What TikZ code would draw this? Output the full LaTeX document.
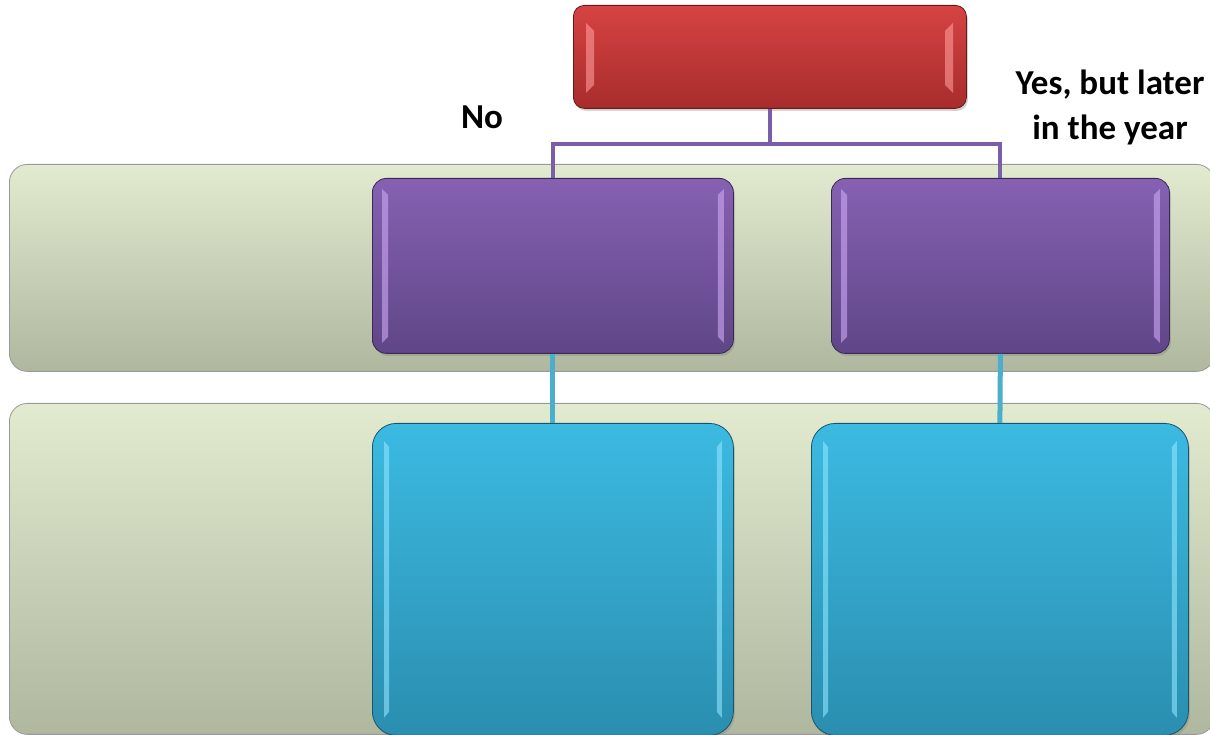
\documentclass[tikz,border=0pt]{standalone}
\usepackage{fontspec}
\setmainfont{Carlito}
\usetikzlibrary{shadows}
\definecolor{redT}{HTML}{D64343}
\definecolor{redB}{HTML}{A82C2C}
\definecolor{purT}{HTML}{8661B2}
\definecolor{purB}{HTML}{5F4687}
\definecolor{cyaT}{HTML}{3CBAE2}
\definecolor{cyaB}{HTML}{2A8EAF}
\definecolor{bandT}{HTML}{E2EBD0}
\definecolor{bandB}{HTML}{AFB89E}
\definecolor{purLine}{HTML}{7B5EA8}
\definecolor{cyaLine}{HTML}{4BAECB}
\definecolor{redHL}{HTML}{FF9A9A}
\definecolor{purHL}{HTML}{CDA8F5}
\definecolor{cyaHL}{HTML}{8FE6FF}
\tikzset{
  box/.style={rectangle, rounded corners=14pt, inner sep=0pt, draw=#1!60!black, line width=0.8pt,
    drop shadow={opacity=0.35, shadow xshift=1.5pt, shadow yshift=-2.5pt}},
  redbox/.style={box=redB, top color=redT, bottom color=redB, rounded corners=11pt},
  purbox/.style={box=purB, top color=purT, bottom color=purB},
  cyabox/.style={box=cyaB, top color=cyaT, bottom color=cyaB, rounded corners=24pt},
  band/.style={rectangle, rounded corners=18pt, inner sep=0pt, draw=gray!80, line width=0.8pt,
    top color=bandT, bottom color=bandB},
  lbl/.style={font=\bfseries\fontsize{35}{45}\selectfont, align=center, text=black},
  plink/.style={draw=purLine, line width=4pt},
  clink/.style={draw=cyaLine, line width=5pt},
  hl/.style={fill=#1, opacity=0.6}
}
\begin{document}
\begin{tikzpicture}[x=1pt,y=1pt]
\useasboundingbox (0,0) rectangle (1210,735);
% bands (y = 735 - image y)
\node[band, minimum width=1205pt, minimum height=207pt, anchor=north west] (band1) at (9,571) {};
\node[band, minimum width=1205pt, minimum height=331pt, anchor=north west] (band2) at (9,332) {};
% top red box
\node[redbox, minimum width=393pt, minimum height=103pt, anchor=north west] (top) at (573,730) {};
% purple boxes
\node[purbox, minimum width=361pt, minimum height=175pt, anchor=north west] (p1) at (372,557) {};
\node[purbox, minimum width=338pt, minimum height=175pt, anchor=north west] (p2) at (831,557) {};
% cyan boxes
\node[cyabox, minimum width=361pt, minimum height=312pt, anchor=north west] (c1) at (372,312) {};
\node[cyabox, minimum width=377pt, minimum height=312pt, anchor=north west] (c2) at (811,312) {};
% highlights (bevel)
\fill[hl=redHL] (586,712) -- (594,704) -- (594,650) -- (586,642) -- cycle;
\fill[hl=redHL] (953,712) -- (945,704) -- (945,650) -- (953,642) -- cycle;
\foreach \n in {p1,p2}{
  \fill[hl=purHL] ([xshift=10pt,yshift=-11pt]\n.north west) -- ([xshift=16pt,yshift=-17pt]\n.north west)
     -- ([xshift=16pt,yshift=17pt]\n.south west) -- ([xshift=10pt,yshift=11pt]\n.south west) -- cycle;
  \fill[hl=purHL] ([xshift=-10pt,yshift=-11pt]\n.north east) -- ([xshift=-16pt,yshift=-17pt]\n.north east)
     -- ([xshift=-16pt,yshift=17pt]\n.south east) -- ([xshift=-10pt,yshift=11pt]\n.south east) -- cycle;
}
\foreach \n in {c1,c2}{
  \fill[hl=cyaHL] ([xshift=12pt,yshift=-18pt]\n.north west) -- ([xshift=17pt,yshift=-24pt]\n.north west)
     -- ([xshift=17pt,yshift=24pt]\n.south west) -- ([xshift=12pt,yshift=18pt]\n.south west) -- cycle;
  \fill[hl=cyaHL] ([xshift=-12pt,yshift=-18pt]\n.north east) -- ([xshift=-17pt,yshift=-24pt]\n.north east)
     -- ([xshift=-17pt,yshift=24pt]\n.south east) -- ([xshift=-12pt,yshift=18pt]\n.south east) -- cycle;
}
% connectors
\coordinate (j) at ([yshift=-35pt]top.south);
\draw[plink] (top.south) -- (j) -| (p1.north);
\draw[plink] (j) -| (p2.north);
\draw[clink] (p1.south) -- (c1.north);
\draw[clink] (p2.south) -- (c2.north);
% labels
\node[lbl] (no) at (482,618) {No};
\node[lbl] (yes) at (1110,628) {Yes, but later\\in the year};
\end{tikzpicture}
\end{document}
